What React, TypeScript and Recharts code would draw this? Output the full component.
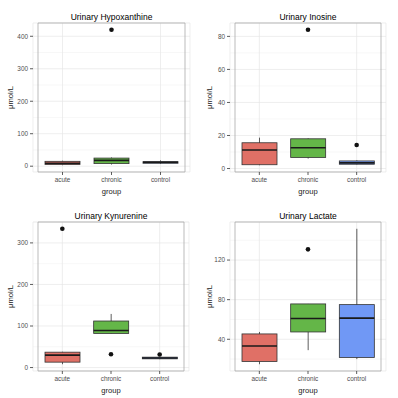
import React from 'react';
import {
  ComposedChart, Bar, Scatter, XAxis, YAxis, CartesianGrid, Cell, ReferenceArea,
} from 'recharts';

const groups = ['acute', 'chronic', 'control'];
const fills = ['#E07066', '#64B648', '#7098F5'];

// Urinary Hypoxanthine
const hypoMin = [3, 5, 7];
const hypoQ1 = [5, 8, 9];
const hypoMed = [9, 18, 12];
const hypoQ3 = [15, 25, 14];
const hypoMax = [17, 27, 18];
const hypoOut = [null, 420, null];
const hypoTicks = [0, 100, 200, 300, 400];

// Urinary Inosine
const inoMin = [2, 6, 2.4];
const inoQ1 = [2.3, 6.7, 2.6];
const inoMed = [11.2, 12.6, 3.4];
const inoQ3 = [15.6, 18, 4.6];
const inoMax = [18.7, 18.3, 5];
const inoOut = [null, 84, 14.2];
const inoTicks = [0, 20, 40, 60, 80];

// Urinary Kynurenine
const kynMin = [8, 82, 20];
const kynQ1 = [13, 82, 21];
const kynMed = [30, 89, 23];
const kynQ3 = [37, 112, 25];
const kynMax = [38, 129, 26];
const kynOut = [334, 32, 31.5];
const kynTicks = [0, 100, 200, 300];

// Urinary Lactate
const lacMin = [14.8, 29, 20];
const lacQ1 = [17.6, 47.4, 21.6];
const lacMed = [33.2, 61, 61.4];
const lacQ3 = [45.4, 75.7, 75];
const lacMax = [47.4, 75.7, 151.6];
const lacOut = [null, 130.8, null];
const lacTicks = [40, 80, 120];

const FONT = '"Liberation Sans", Arial, Helvetica, sans-serif';

function buildRows(mn: number[], q1: number[], med: number[], q3: number[], mx: number[], out: (number | null)[]) {
  return groups.map((g, i) => ({
    group: g,
    range: [mn[i], mx[i]],
    q1: q1[i],
    median: med[i],
    q3: q3[i],
    outlier: out[i],
  }));
}

// ggplot-style 5% expansion around everything drawn
function expandDomain(rows: any[]): [number, number] {
  const vals: number[] = [];
  rows.forEach((r) => {
    vals.push(r.range[0], r.range[1]);
    if (r.outlier != null) vals.push(r.outlier);
  });
  const lo = Math.min(...vals);
  const hi = Math.max(...vals);
  const pad = (hi - lo) * 0.05;
  return [lo - pad, hi + pad];
}

function minorValues(ticks: number[], domain: [number, number]) {
  const step = ticks[1] - ticks[0];
  const out: number[] = [];
  for (let v = ticks[0] - step / 2; v <= domain[1]; v += step) {
    if (v >= domain[0]) out.push(v);
  }
  return out;
}

const BoxShape = (props: any) => {
  const { x, y, width, height, payload, fill } = props;
  if (x == null || !payload) return <g />;
  const top = Math.min(y, y + height);
  const bot = Math.max(y, y + height);
  const lo = payload.range[0];
  const hi = payload.range[1];
  const toPx = (v: number) => (hi === lo ? bot : bot - ((v - lo) / (hi - lo)) * (bot - top));
  const cx = x + width / 2;
  const yq1 = toPx(payload.q1);
  const yq3 = toPx(payload.q3);
  const ym = toPx(payload.median);
  return (
    <g>
      <line x1={cx} x2={cx} y1={top} y2={bot} stroke="#333" strokeWidth={0.8} />
      <rect x={x} y={yq3} width={width} height={Math.max(yq1 - yq3, 0.5)} fill={fill} stroke="#333" strokeWidth={0.8} />
      <line x1={x} x2={x + width} y1={ym} y2={ym} stroke="#1a1a1a" strokeWidth={1.6} />
    </g>
  );
};

const Dot = (p: any) => {
  if (!p || p.payload?.outlier == null || !Number.isFinite(p.cy)) return <g />;
  return <circle cx={p.cx} cy={p.cy} r={2.3} fill="#111" />;
};

type PanelProps = {
  title: string;
  rows: any[];
  ticks: number[];
  yWidth: number;
  right: number;
  left: number;
  top: number;
};

const Panel = ({ title, rows, ticks, yWidth, right, left, top }: PanelProps) => {
  const domain = expandDomain(rows);
  const minors = minorValues(ticks, domain);
  const minorGen = (args: any) => {
    const scale = args?.yAxis?.scale;
    if (typeof scale === 'function') return minors.map((v) => scale(v));
    if (scale && typeof scale.map === 'function') return minors.map((v) => scale.map(v));
    return [];
  };
  const plotW = 199 - yWidth - right;
  return (
    <div style={{ position: 'absolute', left, top, width: 199, height: 199 }}>
      <div
        style={{
          position: 'absolute', left: yWidth, top: 12, width: plotW, textAlign: 'center',
          fontSize: 8.5, lineHeight: '11px', color: '#000', fontFamily: FONT,
        }}
      >
        {title}
      </div>
      <ComposedChart width={199} height={199} data={rows} margin={{ top: 23, right, bottom: 0, left: 0 }}>
        <CartesianGrid
          vertical={false}
          stroke="#f2f2f2"
          strokeWidth={0.6}
          horizontalCoordinatesGenerator={minorGen}
        />
        <CartesianGrid stroke="#e6e6e6" strokeWidth={0.7} />
        <XAxis
          dataKey="group"
          height={27}
          tickSize={3}
          tickMargin={2}
          padding={{ left: 5, right: 5 }}
          axisLine={false}
          tickLine={{ stroke: '#333', strokeWidth: 0.8 }}
          tick={{ fontSize: 6.4, fill: '#4d4d4d', fontFamily: FONT }}
          label={{
            value: 'group', position: 'insideBottom', offset: 5,
            style: { fontSize: 7.6, fill: '#222', fontFamily: FONT, fontWeight: 'normal' },
          }}
        />
        <YAxis
          type="number"
          domain={domain}
          ticks={ticks}
          allowDataOverflow
          width={yWidth}
          tickSize={3}
          tickMargin={2}
          axisLine={false}
          tickLine={{ stroke: '#333', strokeWidth: 0.8 }}
          tick={{ fontSize: 6.4, fill: '#4d4d4d', fontFamily: FONT }}
          label={{
            value: 'μmol/L', angle: -90, position: 'insideLeft', offset: 10,
            style: { textAnchor: 'middle', fontSize: 7.6, fill: '#222', fontFamily: FONT },
          }}
        />
        <Bar dataKey="range" barSize={35} shape={BoxShape} isAnimationActive={false}>
          {rows.map((_, i) => (
            <Cell key={i} fill={fills[i]} />
          ))}
        </Bar>
        <Scatter dataKey="outlier" shape={Dot} isAnimationActive={false} />
        <ReferenceArea y1={domain[0]} y2={domain[1]} fill="none" stroke="#aaaaaa" strokeWidth={0.8} />
      </ComposedChart>
    </div>
  );
};

export default function App() {
  const hypo = buildRows(hypoMin, hypoQ1, hypoMed, hypoQ3, hypoMax, hypoOut);
  const ino = buildRows(inoMin, inoQ1, inoMed, inoQ3, inoMax, inoOut);
  const kyn = buildRows(kynMin, kynQ1, kynMed, kynQ3, kynMax, kynOut);
  const lac = buildRows(lacMin, lacQ1, lacMed, lacQ3, lacMax, lacOut);
  return (
    <div style={{ position: 'absolute', left: 0, top: 0, width: 398, height: 398, background: '#fff', fontFamily: FONT }}>
      <Panel title="Urinary Hypoxanthine" rows={hypo} ticks={hypoTicks} yWidth={33} right={9} left={0} top={0} />
      <Panel title="Urinary Inosine" rows={ino} ticks={inoTicks} yWidth={31} right={12} left={199} top={0} />
      <Panel title="Urinary Kynurenine" rows={kyn} ticks={kynTicks} yWidth={33} right={10} left={0} top={199} />
      <Panel title="Urinary Lactate" rows={lac} ticks={lacTicks} yWidth={31} right={12} left={199} top={199} />
    </div>
  );
}
